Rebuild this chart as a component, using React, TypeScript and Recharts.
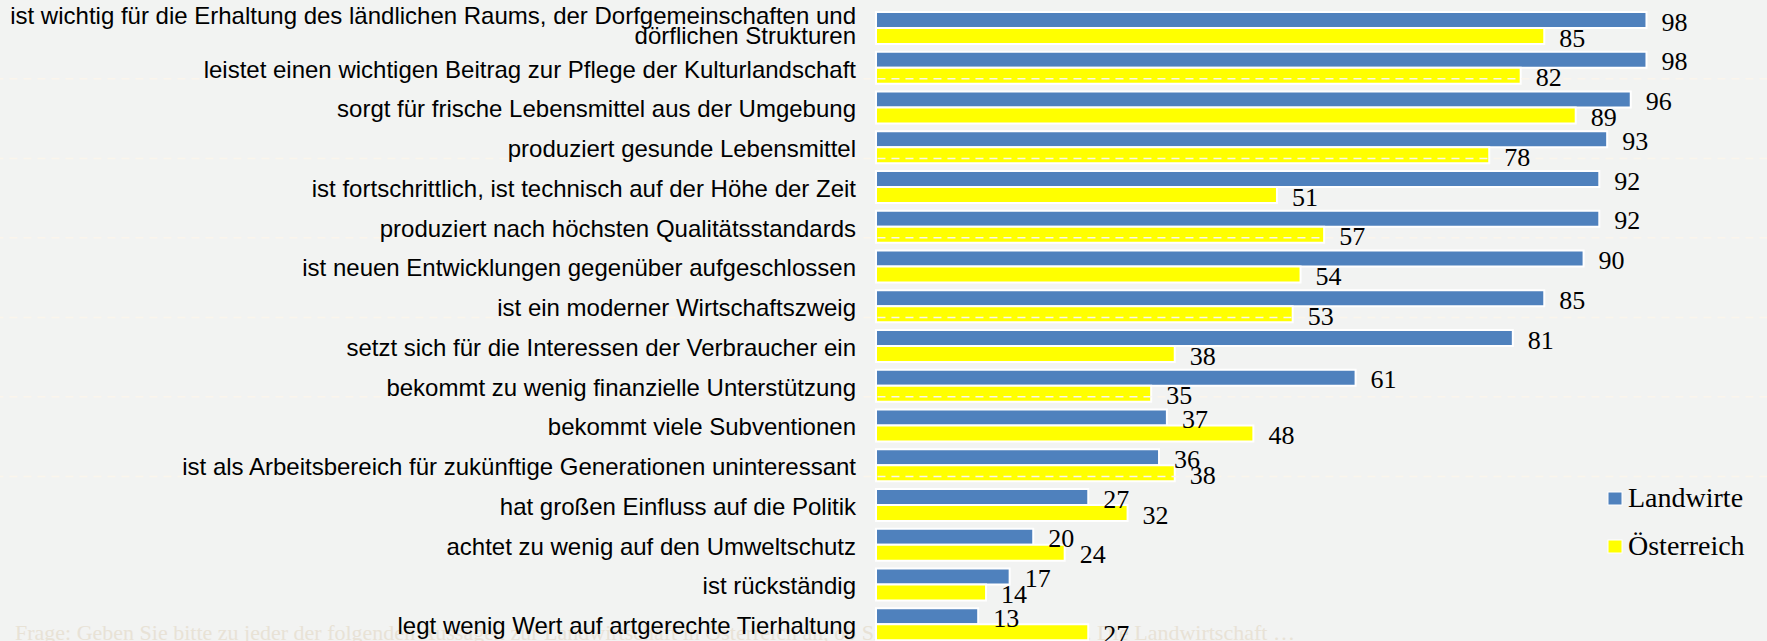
import React from 'react';
import { BarChart, Bar, XAxis, YAxis, LabelList, Legend, ReferenceLine } from 'recharts';

const categories = [
  'ist wichtig für die Erhaltung des ländlichen Raums, der Dorfgemeinschaften und\ndörflichen Strukturen',
  'leistet einen wichtigen Beitrag zur Pflege der Kulturlandschaft',
  'sorgt für frische Lebensmittel aus der Umgebung',
  'produziert gesunde Lebensmittel',
  'ist fortschrittlich, ist technisch auf der Höhe der Zeit',
  'produziert nach höchsten Qualitätsstandards',
  'ist neuen Entwicklungen gegenüber aufgeschlossen',
  'ist ein moderner Wirtschaftszweig',
  'setzt sich für die Interessen der Verbraucher ein',
  'bekommt zu wenig finanzielle Unterstützung',
  'bekommt viele Subventionen',
  'ist als Arbeitsbereich für zukünftige Generationen uninteressant',
  'hat großen Einfluss auf die Politik',
  'achtet zu wenig auf den Umweltschutz',
  'ist rückständig',
  'legt wenig Wert auf artgerechte Tierhaltung',
];

const landwirte = [98, 98, 96, 93, 92, 92, 90, 85, 81, 61, 37, 36, 27, 20, 17, 13];
const oesterreich = [85, 82, 89, 78, 51, 57, 54, 53, 38, 35, 48, 38, 32, 24, 14, 27];

const seriesNames = ['Landwirte', 'Österreich'];
const seriesColors = ['#4f81bd', '#ffff00'];

// faint dashed guide lines, in units of the hidden guide axis
const gridLevels = [13.33, 11.45, 9.58, 7.7, 5.83, 3.95];
const gridExtent = [-112, 114];

const footnote =
  'Frage: Geben Sie bitte zu jeder der folgenden Aussagen zur Landwirtschaft in Österreich an, ob Sie zustimmen oder nicht. Die Landwirtschaft …';

const data = categories.map((label, i) => ({
  label,
  landwirte: landwirte[i],
  oesterreich: oesterreich[i],
}));

const SANS = "'Liberation Sans', Arial, sans-serif";
const SERIF = "'Liberation Serif', 'Times New Roman', serif";
const BG = '#f2f3f2';

const CategoryTick = (props: any) => {
  const { x, y, payload } = props;
  const lines = String(payload.value).split('\n');
  const n = lines.length;
  return (
    <text textAnchor="end" fontFamily={SANS} fontSize={24} fill="#000">
      {lines.map((l, i) => (
        <tspan key={i} x={x} y={y + 10 - (n - 1) * 14 + i * 20}>
          {l}
        </tspan>
      ))}
    </text>
  );
};

const renderValue = (props: any) => {
  const { x, y, width, height, value } = props;
  return (
    <text
      x={Number(x) + Number(width) + 15}
      y={Number(y) + Number(height) / 2 + 10.5}
      fontFamily={SERIF}
      fontSize={26}
      fill="#000"
    >
      {value}
    </text>
  );
};

const renderLegend = (props: any) => {
  const payload = props.payload || [];
  return (
    <svg width={167} height={100} style={{ display: 'block' }}>
      {payload.map((e: any, i: number) => (
        <g key={i}>
          <rect x={8} y={22 + i * 48} width={14} height={13} fill={e.color} stroke="#fff" strokeWidth={1} />
          <text x={28} y={37 + i * 48} fontFamily={SERIF} fontSize={28} fill="#000">
            {e.value}
          </text>
        </g>
      ))}
    </svg>
  );
};

export default function App() {
  return (
    <div
      style={{
        position: 'fixed',
        left: 0,
        top: 0,
        width: 1767,
        height: 641,
        overflow: 'hidden',
        background: BG,
      }}
    >
      <div
        style={{
          position: 'absolute',
          left: 15,
          top: 619,
          whiteSpace: 'nowrap',
          fontFamily: SERIF,
          fontSize: 22,
          lineHeight: '28px',
          color: '#e8e2d6',
        }}
      >
        {footnote}
      </div>
      <div style={{ position: 'absolute', left: 0, top: 0 }}>
        <BarChart
          width={1767}
          height={650}
          data={data}
          layout="vertical"
          barGap={0}
          margin={{ top: 8, right: 104.8, bottom: 6, left: 0 }}
        >
          <XAxis type="number" domain={[0, 100]} hide />
          <YAxis
            type="category"
            dataKey="label"
            width={876}
            tickSize={0}
            tickMargin={20}
            axisLine={false}
            tickLine={false}
            interval={0}
            tick={<CategoryTick />}
          />
          <YAxis yAxisId="grid" type="number" domain={[0, 16]} allowDataOverflow reversed hide />
          <Bar
            dataKey="landwirte"
            name={seriesNames[0]}
            fill={seriesColors[0]}
            stroke="#fff"
            strokeWidth={2}
            barSize={16}
            isAnimationActive={false}
          >
            <LabelList dataKey="landwirte" content={renderValue} />
          </Bar>
          <Bar
            dataKey="oesterreich"
            name={seriesNames[1]}
            fill={seriesColors[1]}
            stroke="#fff"
            strokeWidth={2}
            barSize={16}
            isAnimationActive={false}
          >
            <LabelList dataKey="oesterreich" content={renderValue} />
          </Bar>
          {gridLevels.map((v) => (
            <ReferenceLine
              key={v}
              yAxisId="grid"
              segment={[
                { x: gridExtent[0], y: v },
                { x: gridExtent[1], y: v },
              ]}
              ifOverflow="visible"
              stroke="#fbf5ec"
              strokeWidth={1.5}
              strokeDasharray="8 6"
            />
          ))}
          <Legend
            layout="vertical"
            align="center"
            verticalAlign="middle"
            wrapperStyle={{ left: 1600, top: 470, width: 167, height: 100 }}
            content={renderLegend}
          />
        </BarChart>
      </div>
    </div>
  );
}
